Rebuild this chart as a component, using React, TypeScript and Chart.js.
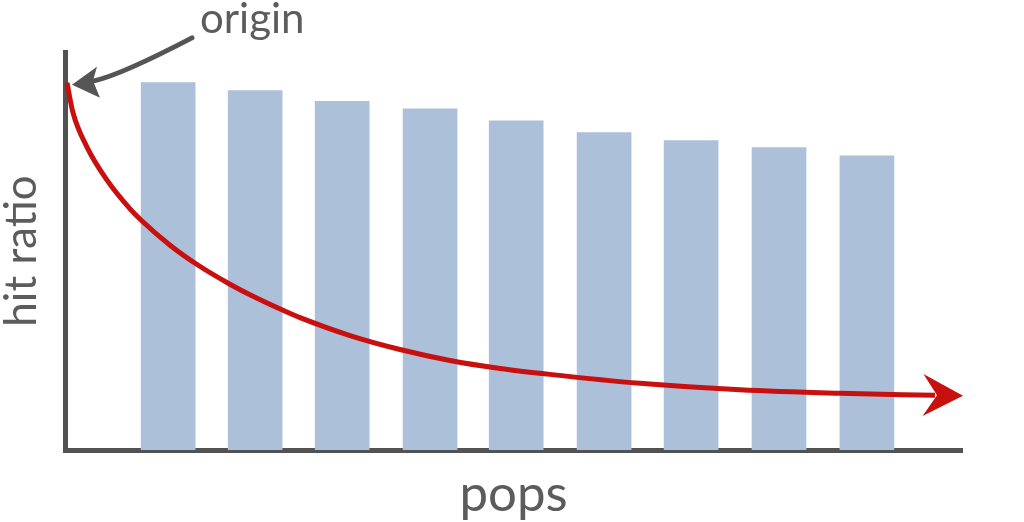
import React, { useEffect, useRef } from "react";
import { Chart, registerables } from "chart.js";

Chart.register(...registerables);

// ---- data (x in "pops" units 0..100, y in "hit ratio" units 0..100) ----
const barPops = [11.5, 21.2, 30.9, 40.7, 50.3, 60.1, 69.8, 79.6, 89.4];
const barHitRatio = [92.3, 90.3, 87.6, 85.7, 82.7, 79.75, 77.75, 76, 73.9];

const curvePops = [
  0.22, 0.89, 2.45, 4.68, 7.25, 8.47, 11.71, 14.72, 18.39, 20.62, 24.3, 26.2,
  31.77, 37.35, 42.92, 48.5, 54.07, 64.1, 75.25, 86.4, 96.99,
];
const curveHitRatio = [
  92.25, 84.75, 76.1, 67.8, 60.6, 57.8, 51.45, 46.6, 41.65, 39.0, 35.1, 33.25,
  28.75, 25.25, 22.5, 20.5, 19, 16.75, 15.125, 14.25, 13.75,
];

const xTitle = "pops";
const yTitle = "hit ratio";
const annotationText = "origin";

const AXIS_COLOR = "#525252";
const TEXT_COLOR = "#5c5c5c";
const BAR_COLOR = "#adc0d9";
const CURVE_COLOR = "#c8100e";
const FONT = "Lato, 'Open Sans', sans-serif";

const decorPlugin = {
  id: "decor",
  afterDatasetsDraw(chart: any) {
    const ctx = chart.ctx;
    const meta = chart.getDatasetMeta(0);
    const pts = meta.data;
    if (!pts || pts.length < 2) return;

    // red arrowhead at the end of the curve
    const last = pts[pts.length - 1];
    const prev = pts[pts.length - 2];
    const ang = Math.atan2(last.y - prev.y, last.x - prev.x);
    ctx.save();
    ctx.translate(last.x, last.y);
    ctx.rotate(ang);
    ctx.fillStyle = CURVE_COLOR;
    ctx.beginPath();
    ctx.moveTo(28, 0);
    ctx.lineTo(-12, -21);
    ctx.lineTo(2, 0);
    ctx.lineTo(-12, 21);
    ctx.closePath();
    ctx.fill();
    ctx.restore();

    // gray annotation arrow pointing to the origin of the curve
    const first = pts[0];
    const tx = first.x + 5;
    const ty = first.y + 2;
    ctx.save();
    ctx.strokeStyle = "#555555";
    ctx.fillStyle = "#555555";
    ctx.lineWidth = 5;
    ctx.lineCap = "round";
    ctx.beginPath();
    ctx.moveTo(tx + 120, ty - 47);
    ctx.quadraticCurveTo(tx + 49, ty - 10, tx + 22, ty - 4);
    ctx.stroke();
    ctx.beginPath();
    ctx.moveTo(tx, ty);
    ctx.lineTo(tx + 25, ty - 18);
    ctx.lineTo(tx + 21, ty - 4);
    ctx.lineTo(tx + 28, ty + 13);
    ctx.closePath();
    ctx.fill();

    ctx.fillStyle = TEXT_COLOR;
    ctx.font = `42px ${FONT}`;
    ctx.textAlign = "left";
    ctx.textBaseline = "alphabetic";
    ctx.fillText(annotationText, tx + 128, ty - 52);
    ctx.restore();
  },
};

export default function App() {
  const ref = useRef<HTMLCanvasElement | null>(null);

  useEffect(() => {
    if (!ref.current) return;
    const chart = new Chart(ref.current, {
      type: "bar",
      data: {
        datasets: [
          {
            type: "scatter",
            data: curvePops.map((x, i) => ({ x, y: curveHitRatio[i] })),
            showLine: true,
            borderColor: CURVE_COLOR,
            borderWidth: 5,
            pointRadius: 0,
            cubicInterpolationMode: "monotone",
            clip: false,
            order: 0,
          } as any,
          {
            type: "bar",
            data: barPops.map((x, i) => ({ x, y: barHitRatio[i] })),
            backgroundColor: BAR_COLOR,
            borderWidth: 0,
            barThickness: 54,
            order: 1,
          } as any,
        ],
      },
      options: {
        animation: false,
        responsive: true,
        maintainAspectRatio: false,
        layout: { padding: { top: 52, right: 62, left: 0, bottom: 0 } },
        plugins: {
          legend: { display: false },
          tooltip: { enabled: false },
        },
        scales: {
          x: {
            type: "linear",
            min: 0,
            max: 100,
            offset: false,
            z: 1,
            grid: { display: false },
            ticks: { display: false },
            border: { display: true, color: AXIS_COLOR, width: 5 },
            title: {
              display: true,
              text: xTitle,
              color: TEXT_COLOR,
              font: { family: FONT, size: 51, lineHeight: 1 },
              padding: { top: 0, bottom: 2 },
            },
            afterFit(scale: any) {
              scale.height = 72;
            },
          },
          y: {
            type: "linear",
            min: 0,
            max: 100,
            z: 1,
            grid: { display: false },
            ticks: { display: false },
            border: { display: true, color: AXIS_COLOR, width: 5 },
            title: {
              display: true,
              text: yTitle,
              color: TEXT_COLOR,
              font: { family: FONT, size: 44, lineHeight: 1 },
              padding: { top: 0, bottom: 0 },
            },
            afterFit(scale: any) {
              scale.width = 65;
            },
          },
        },
      } as any,
      plugins: [decorPlugin],
    });
    return () => chart.destroy();
  }, []);

  return (
    <div
      style={{
        position: "fixed",
        left: 0,
        top: 0,
        width: 1024,
        height: 522,
        background: "#ffffff",
      }}
    >
      <canvas ref={ref} />
    </div>
  );
}
